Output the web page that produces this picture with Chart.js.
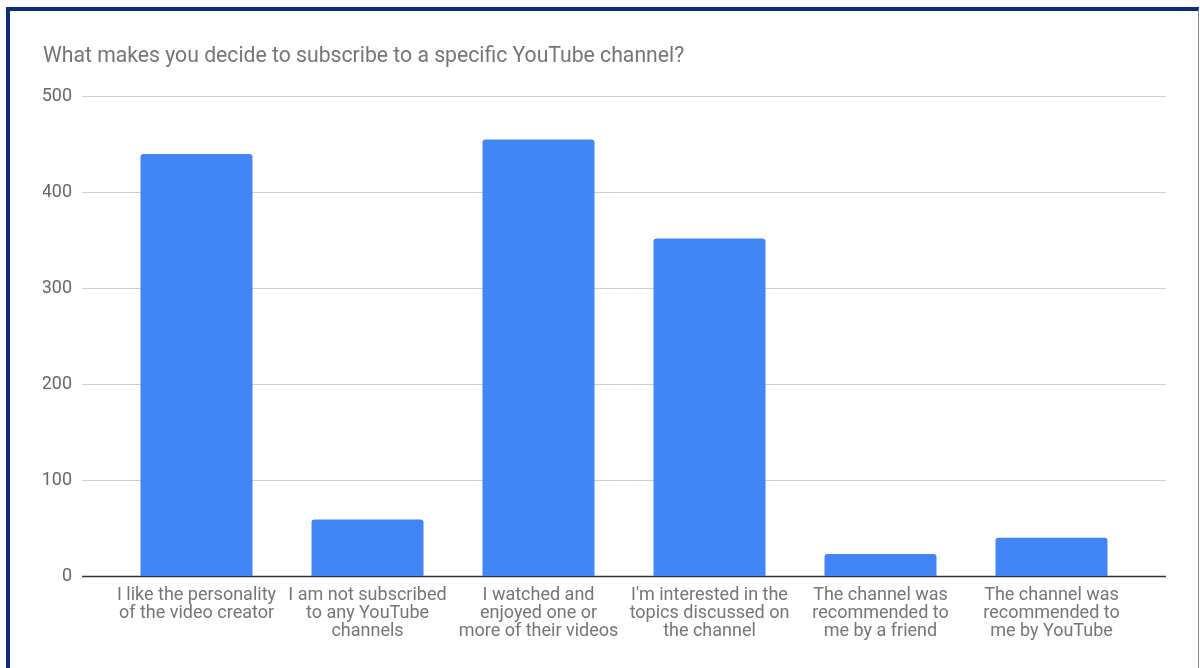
<!DOCTYPE html>
<html>
<head>
<meta charset="utf-8">
<script src="https://cdn.jsdelivr.net/npm/chart.js@4"></script>
<style>
  body { margin: 0; background: #fff; }
  #frame {
    position: absolute; left: 6px; top: 7px; width: 1188px; height: 700px;
    border-top: 4px solid #0e2c78; border-left: 4px solid #0e2c78; border-right: 1px solid #7f88aa;
  }
  #wrap { position: absolute; left: 0; top: 0; width: 1200px; height: 668px; }
</style>
</head>
<body>
<div id="frame"></div>
<div id="wrap"><canvas id="subsChart" width="1200" height="668"></canvas></div>
<script>
// Data
const categories = [
  ["I like the personality", "of the video creator"],
  ["I am not subscribed", "to any YouTube", "channels"],
  ["I watched and", "enjoyed one or", "more of their videos"],
  ["I'm interested in the", "topics discussed on", "the channel"],
  ["The channel was", "recommended to", "me by a friend"],
  ["The channel was", "recommended to", "me by YouTube"],
];
const responses = [440, 59, 455, 352, 23, 40];
const yTicks = [0, 100, 200, 300, 400, 500];

// gridlines wider than the bar area, like the original
const wideGrid = {
  id: "wideGrid",
  beforeDatasetsDraw(chart) {
    const { ctx, chartArea, scales } = chart;
    const x0 = chartArea.left - 29, x1 = chartArea.right + 29;
    ctx.save();
    yTicks.forEach((t) => {
      const y = Math.round(scales.y.getPixelForValue(t)) + 0.5;
      ctx.beginPath();
      ctx.strokeStyle = t === 0 ? "#333333" : "#cccccc";
      ctx.lineWidth = t === 0 ? 1.6 : 1;
      ctx.moveTo(x0, y);
      ctx.lineTo(x1, y);
      ctx.stroke();
    });
    ctx.restore();
  },
};

new Chart(document.getElementById("subsChart").getContext("2d"), {
  type: "bar",
  data: {
    labels: categories,
    datasets: [
      {
        label: "Responses",
        data: responses,
        backgroundColor: "#4285f4",
        borderRadius: 3,
        categoryPercentage: 1,
        barPercentage: 0.655,
      },
    ],
  },
  options: {
    responsive: false,
    animation: false,
    layout: { padding: { left: 43, right: 63, top: 44, bottom: 18 } },
    plugins: {
      legend: { display: false },
      tooltip: { enabled: false },
      title: {
        display: true,
        text: "What makes you decide to subscribe to a specific YouTube channel?",
        align: "start",
        color: "#757575",
        font: { family: "Roboto", size: 21.2, weight: "normal" },
        padding: { top: 0, bottom: 27 },
      },
    },
    scales: {
      x: {
        grid: { display: false, drawTicks: false },
        border: { display: false },
        ticks: {
          color: "#757575",
          font: { family: "Roboto", size: 18, lineHeight: 1.0 },
          padding: 10,
          maxRotation: 0,
          autoSkip: false,
        },
      },
      y: {
        min: 0,
        max: 500,
        grid: { display: false, drawTicks: false },
        border: { display: false },
        afterFit(scale) {
          scale.width = 68;
        },
        ticks: {
          stepSize: 100,
          color: "#666666",
          font: { family: "Roboto", size: 18 },
          padding: 39,
        },
      },
    },
  },
  plugins: [wideGrid],
});
</script>
</body>
</html>
